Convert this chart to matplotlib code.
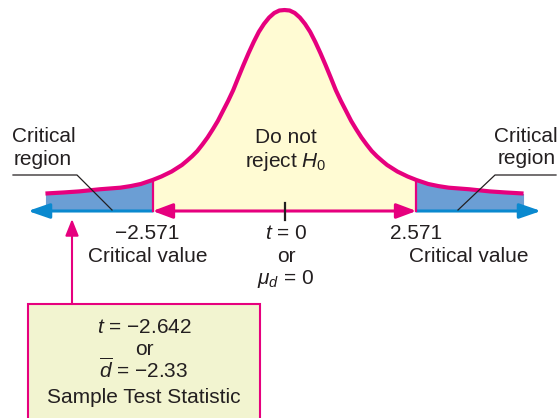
import matplotlib
matplotlib.use('Agg')
import matplotlib.pyplot as plt
import matplotlib.transforms as mtrans
from matplotlib.patches import FancyArrowPatch, Rectangle
import numpy as np

# ---- data ----
t_vals = [-4.66, -4.3, -4.0, -3.6, -3.2, -3.0, -2.8, -2.571, -2.4, -2.2, -2.0,
          -1.9, -1.8, -1.7, -1.6, -1.5, -1.4, -1.3, -1.2, -1.1, -1.0, -0.9,
          -0.8, -0.7, -0.6, -0.5, -0.4, -0.3, -0.2, -0.1, 0.0,
          0.1, 0.2, 0.3, 0.4, 0.5, 0.6, 0.7, 0.8, 0.9, 1.0, 1.1, 1.2, 1.3,
          1.4, 1.5, 1.6, 1.7, 1.8, 1.9, 2.0, 2.2, 2.4, 2.571, 2.8, 3.0, 3.2,
          3.6, 4.0, 4.3, 4.66]
density = [0.033, 0.035, 0.037, 0.041, 0.044, 0.047, 0.051, 0.0585, 0.0651, 0.0745, 0.0868,
           0.0949, 0.1034, 0.1132, 0.1255, 0.1387, 0.1538, 0.1698, 0.1887, 0.2075, 0.228, 0.252,
           0.2755, 0.298, 0.319, 0.338, 0.353, 0.365, 0.3736, 0.3783, 0.3792,
           0.3783, 0.3736, 0.365, 0.353, 0.338, 0.319, 0.298, 0.2755, 0.252, 0.228, 0.2075, 0.1887, 0.1698,
           0.1538, 0.1387, 0.1255, 0.1132, 0.1034, 0.0949, 0.0868, 0.0745, 0.0651, 0.0585, 0.051, 0.047, 0.044,
           0.041, 0.037, 0.035, 0.033]
critical_value = 2.571
axis_end = 5.0
left_label = ["Critical", "region"]
center_label = ["Do not", "reject $H_0$"]
crit_labels = ["\u22122.571", "2.571"]
center_tick_labels = ["$t$ = 0", "or", "$\\mu_d$ = 0"]
box_lines = ["$t$ = \u22122.642", "or", "$\\overline{d}$ = \u22122.33", "Sample Test Statistic"]

# ---- style ----
MAG = '#E6007E'
BLUE_LINE = '#0A89CF'
BLUE_FILL = '#6B9ED4'
YELLOW = '#FFFBD3'
BOX = '#F2F4D0'
TXT = '#231F20'

plt.rcParams['font.family'] = ['Liberation Sans', 'DejaVu Sans']
plt.rcParams['mathtext.fontset'] = 'custom'
plt.rcParams['mathtext.rm'] = 'Liberation Sans'
plt.rcParams['mathtext.it'] = 'Liberation Sans:italic'
plt.rcParams['mathtext.bf'] = 'Liberation Sans:bold'
plt.rcParams['mathtext.sf'] = 'Liberation Sans'

t = np.array(t_vals)
d = np.array(density)
c = critical_value

fig = plt.figure(figsize=(5.58, 4.18), dpi=100)
ax = fig.add_axes([0, 0, 1, 1])
ax.axis('off')
pix = mtrans.Affine2D().scale(1 / 558, -1 / 418).translate(0, 1) + fig.transFigure

# fills
ax.fill_between(t, 0, d, where=(t >= -c) & (t <= c), color=YELLOW, lw=0, zorder=1)
ax.fill_between(t, 0, d, where=(t <= -c), color=BLUE_FILL, lw=0, zorder=1)
ax.fill_between(t, 0, d, where=(t >= c), color=BLUE_FILL, lw=0, zorder=1)

# vertical lines at critical values
dc_left = d[np.isclose(t, -c)][0]
dc_right = d[np.isclose(t, c)][0]
ax.plot([-c, -c], [0, dc_left], color=MAG, lw=1.6, zorder=3)
ax.plot([c, c], [0, dc_right], color=MAG, lw=1.6, zorder=3)

# number line
for start, end in [(-c, -axis_end), (c, axis_end)]:
    ax.add_patch(FancyArrowPatch((start, 0), (end, 0),
                                 arrowstyle='-|>,head_length=1.3,head_width=0.45',
                                 mutation_scale=10, color=BLUE_LINE, lw=2.2,
                                 shrinkA=0, shrinkB=0, zorder=2))
ax.add_patch(FancyArrowPatch((-c, 0), (c, 0),
                             arrowstyle='<|-|>,head_length=1.2,head_width=0.45',
                             mutation_scale=10, color=MAG, lw=2.2,
                             shrinkA=0, shrinkB=0, zorder=2))

# curve
ax.plot(t, d, color=MAG, lw=3.0, solid_joinstyle='round', solid_capstyle='butt', zorder=5)

# tick at 0
ax.plot([0, 0], [0.016, -0.017], color=TXT, lw=1.6, zorder=6)

fs = 15
def txt(x, y, s):
    ax.text(x, y, s, transform=pix, ha='center', va='baseline', fontsize=fs, color=TXT, zorder=7)

# critical region labels
txt(44, 142, left_label[0]); txt(43, 165, left_label[1])
txt(526, 142, left_label[0]); txt(527, 164, left_label[1])
ax.plot([13, 77, 112], [175, 175, 210], transform=pix, color=TXT, lw=0.9, zorder=6)
ax.plot([458, 495, 556], [210, 175, 175], transform=pix, color=TXT, lw=0.9, zorder=6)

# center
txt(286, 143, center_label[0]); txt(286, 167, center_label[1])

# axis labels
txt(147, 239, crit_labels[0]); txt(148, 262, "Critical value")
txt(416, 239, crit_labels[1]); txt(469, 262, "Critical value")
txt(286, 239, center_tick_labels[0]); txt(286, 262, center_tick_labels[1]); txt(286, 284, center_tick_labels[2])

# sample statistic box and arrow
ax.add_patch(Rectangle((28, 304), 232, 130, transform=pix, facecolor=BOX,
                       edgecolor=MAG, lw=1.5, zorder=4, clip_on=False))
ax.add_patch(FancyArrowPatch((72, 304), (72, 219), transform=pix,
                             arrowstyle='-|>,head_length=1.0,head_width=0.4',
                             mutation_scale=10, color=MAG, lw=1.5,
                             shrinkA=0, shrinkB=0, zorder=4))
for s, yb in zip(box_lines, [333, 355, 378, 403]):
    txt(144, yb, s)

ax.set_xlim(-284.5 / 51.3, 273.5 / 51.3)
ax.set_ylim(-207 / 530, 211 / 530)

fig.savefig('out.png', dpi=100)
